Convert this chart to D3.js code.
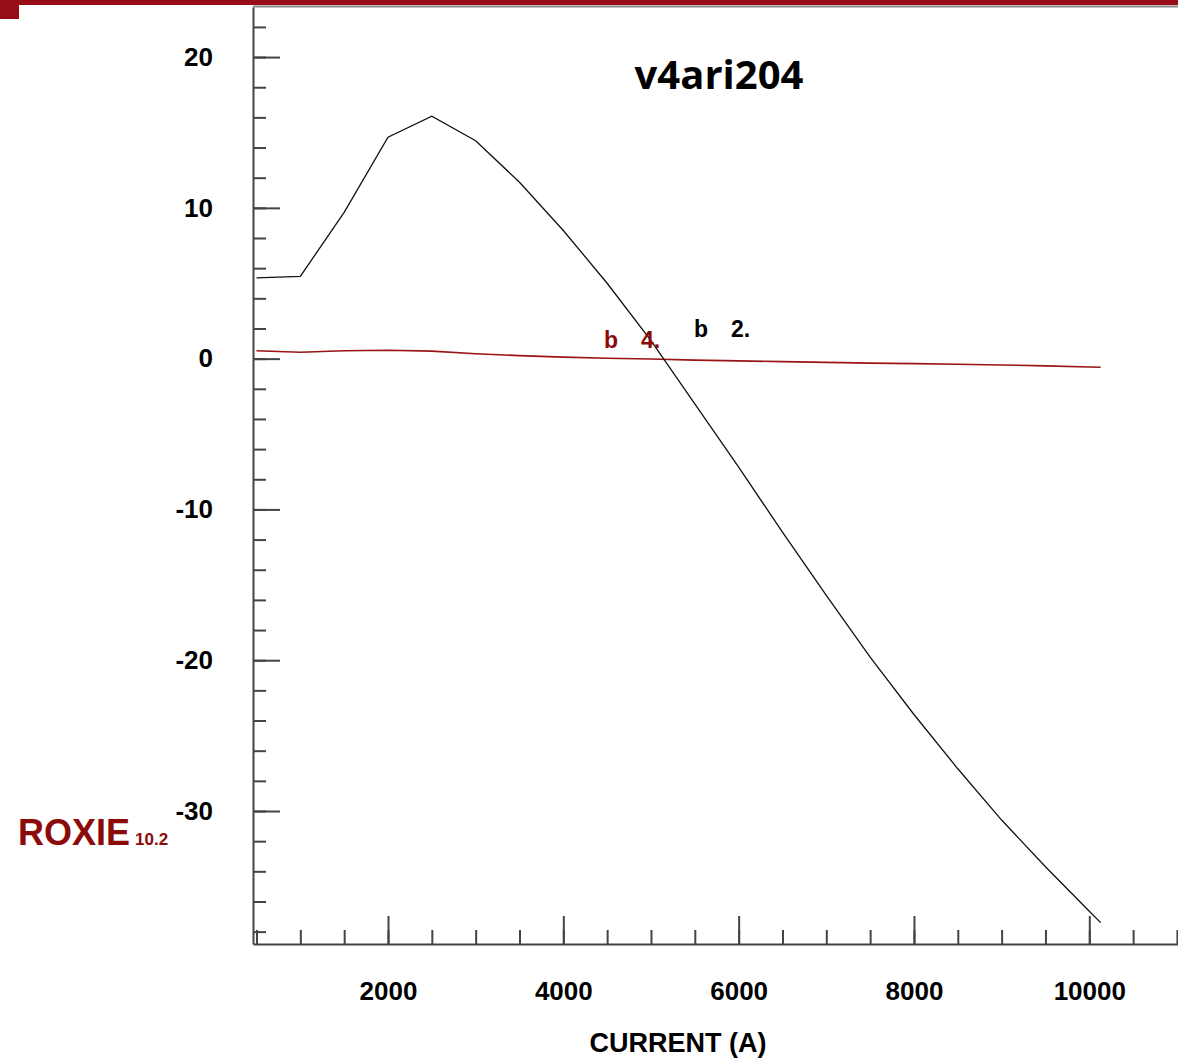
<!doctype html>
<html>
  <head>
    <meta charset="utf-8">
    <title>v4ari204</title>
    <script src="https://cdnjs.cloudflare.com/ajax/libs/d3/7.8.5/d3.min.js"></script>
    <style>
      body { margin: 0; background: #fff; }
      svg { display: block; }
      .tick text { font-family: "Liberation Sans", Arial, sans-serif; font-weight: bold; font-size: 26px; fill: #000; }
      .tick line { stroke: #444; stroke-width: 2; }
      .domain { stroke: #444; stroke-width: 2; }
    </style>
  </head>
  <body>
    <div id="chart"></div>
    <script>
      // data (current in A, harmonic in units)
      const current = [500, 1000, 1500, 2000, 2500, 3000, 3500, 4000, 4500, 5000, 5500,
                       6000, 6500, 7000, 7500, 8000, 8500, 9000, 9500, 10000, 10130];
      const b2 = [5.36, 5.46, 9.7, 14.68, 16.08, 14.45, 11.7, 8.5, 5.0, 1.2, -3.0,
                  -7.2, -11.5, -15.7, -19.8, -23.6, -27.2, -30.6, -33.7, -36.65, -37.4];
      const b4 = [0.52, 0.42, 0.52, 0.56, 0.5, 0.32, 0.2, 0.1, 0.03, -0.02, -0.1,
                  -0.15, -0.2, -0.25, -0.3, -0.33, -0.37, -0.42, -0.48, -0.55, -0.57];

      const xMajor = [2000, 4000, 6000, 8000, 10000];
      const yMajor = [-30, -20, -10, 0, 10, 20];

      const W = 1178, H = 1058;
      const plotLeft = 253, plotRight = 1178, plotTop = 7, plotBottom = 944;

      const svg = d3.select('#chart').append('svg')
        .attr('width', W)
        .attr('height', H);

      // red banner on top
      svg.append('rect').attr('x', 0).attr('y', 0).attr('width', W).attr('height', 5).attr('fill', '#960d18');
      svg.append('rect').attr('x', 0).attr('y', 0).attr('width', 19).attr('height', 19).attr('fill', '#960d18');
      svg.append('line').attr('x1', plotLeft).attr('x2', W).attr('y1', 6.5).attr('y2', 6.5)
        .attr('stroke', '#888').attr('stroke-width', 2);

      const x = d3.scaleLinear().domain([460, 11012]).range([plotLeft, plotRight]);
      const y = d3.scaleLinear().domain([-38.82, 23.32]).range([plotBottom, plotTop]);

      // minor ticks
      svg.append('g')
        .attr('transform', `translate(${plotLeft},0)`)
        .call(d3.axisLeft(y).tickValues(d3.range(-38, 23, 2)).tickSize(-13).tickFormat(''))
        .call(g => g.select('.domain').remove());
      svg.append('g')
        .attr('transform', `translate(0,${plotBottom})`)
        .call(d3.axisBottom(x).tickValues(d3.range(500, 11001, 500)).tickSize(-14).tickFormat(''))
        .call(g => g.select('.domain').remove());

      // major ticks + labels (plain hyphen for negatives, like the original)
      svg.append('g')
        .attr('transform', `translate(${plotLeft},0)`)
        .call(d3.axisLeft(y).tickValues(yMajor).tickSize(-27).tickSizeOuter(0).tickPadding(40).tickFormat(d => String(d)));
      svg.append('g')
        .attr('transform', `translate(0,${plotBottom})`)
        .call(d3.axisBottom(x).tickValues(xMajor).tickSize(-28).tickSizeOuter(0).tickPadding(38).tickFormat(d => String(d)));

      const line = vals => d3.line()
        .x((d, i) => x(current[i]))
        .y(d => y(d))(vals);

      svg.append('path').attr('d', line(b4))
        .attr('fill', 'none').attr('stroke', '#9a1414').attr('stroke-width', 1.6);
      svg.append('path').attr('d', line(b2))
        .attr('fill', 'none').attr('stroke', '#111').attr('stroke-width', 1.3);

      // curve labels
      const lab = (tx, ty, t, c) => svg.append('text')
        .attr('x', tx).attr('y', ty).text(t)
        .style('font-family', '"Liberation Sans", Arial, sans-serif')
        .style('font-weight', 'bold').style('font-size', '23px').style('fill', c);
      lab(604, 348, 'b', '#8b0a0a');
      lab(641, 348, '4.', '#8b0a0a');
      lab(694, 337, 'b', '#000');
      lab(731, 337, '2.', '#000');

      // axis title
      svg.append('text')
        .attr('x', 678).attr('y', 1052)
        .attr('text-anchor', 'middle')
        .style('font-family', '"Liberation Sans", Arial, sans-serif')
        .style('font-weight', 'bold').style('font-size', '27px')
        .text('CURRENT (A)');

      // chart title
      svg.append('text')
        .attr('x', 719).attr('y', 89)
        .attr('text-anchor', 'middle')
        .style('font-family', '"Open Sans", Lato, sans-serif')
        .style('font-weight', 'bold').style('font-size', '40px')
        .text('v4ari204');

      // ROXIE logo
      const logo = svg.append('text')
        .attr('x', 18).attr('y', 845)
        .style('font-family', '"Liberation Sans", Arial, sans-serif')
        .style('font-weight', 'bold').style('fill', '#8b0a0a');
      logo.append('tspan').style('font-size', '36px').text('ROXIE');
      logo.append('tspan').attr('dx', 5).style('font-size', '17px').text('10.2');
    </script>
  </body>
</html>
